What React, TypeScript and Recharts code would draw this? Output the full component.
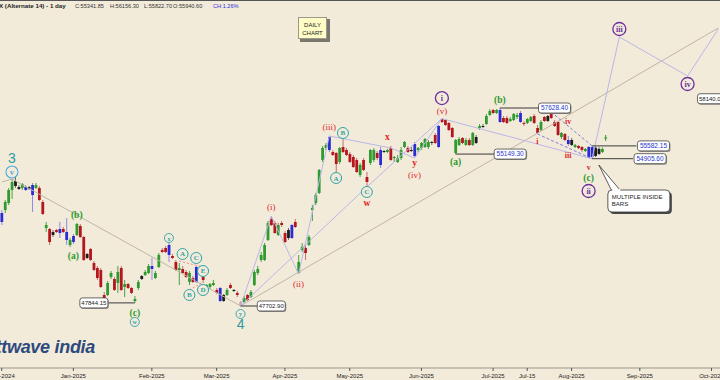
import {
  Bar,
  ComposedChart,
  ReferenceDot,
  ReferenceLine,
  XAxis,
  YAxis,
} from "recharts";

type Tone = "g" | "r" | "b" | "k" | "p";
// open, high, low, close, bar colour used by the charting package
type Ohlc = [number, number, number, number, Tone];

const dec2024: Ohlc[] = [
  [51686, 52281, 51538, 52132, "b"], [52281, 52783, 52132, 52683, "g"],
  [52632, 53392, 52532, 53290, "g"], [53290, 53852, 52834, 53698, "g"],
  [53749, 53955, 53392, 53493, "k"], [53442, 53544, 53290, 53341, "k"],
  [53392, 53646, 53290, 53595, "g"], [53290, 53544, 53239, 53442, "b"],
  [53442, 53493, 53290, 53341, "k"], [53035, 53646, 52182, 53544, "b"],
  [53392, 53646, 53341, 53544, "g"], [53392, 53493, 52733, 52783, "r"],
  [52683, 52783, 52033, 52083, "r"], [51391, 51686, 51195, 51538, "g"],
  [51342, 51391, 50564, 50709, "r"], [51195, 51293, 50951, 51048, "k"],
  [51293, 51342, 51146, 51195, "r"], [51146, 51686, 50902, 51342, "b"],
  [51342, 51440, 51146, 51195, "r"], [50805, 51884, 50564, 51195, "b"],
  [50564, 50902, 50468, 50805, "g"],
];
const jan2025: Ohlc[] = [
  [50709, 51097, 50612, 50999, "b"], [51048, 51636, 50999, 51587, "g"],
  [51489, 51587, 50902, 50951, "r"], [50951, 50999, 49797, 49845, "r"],
  [50131, 50179, 49892, 49940, "k"], [50371, 50420, 49797, 49845, "r"],
  [49702, 49797, 49324, 49371, "r"], [49465, 49560, 48902, 48995, "r"],
  [49371, 49465, 48530, 48577, "r"], [48207, 48346, 47885, 48023, "r"],
  [48207, 48855, 48161, 48762, "g"], [49042, 49324, 48949, 49230, "g"],
  [48949, 49042, 48392, 48438, "r"], [48762, 49560, 48300, 49277, "g"],
  [49465, 49560, 48392, 48438, "r"], [48577, 48902, 48115, 48716, "g"],
  [48716, 48762, 48484, 48530, "r"], [48530, 48577, 48254, 48300, "r"],
  [47930, 48161, 47844.15, 48023, "g"], [48530, 48902, 48438, 48809, "g"],
  [49089, 49136, 48902, 48949, "k"], [49136, 49371, 49089, 49277, "g"],
  [49230, 49655, 49183, 49560, "g"],
];
const feb2025: Ohlc[] = [
  [49418, 49940, 48902, 49560, "b"], [48995, 49324, 48949, 49230, "g"],
  [49513, 50179, 49465, 50083, "g"], [50323, 50420, 50179, 50227, "r"],
  [50420, 50516, 50179, 50227, "r"], [50083, 50660, 49750, 50564, "b"],
  [50035, 50131, 49892, 49940, "r"], [49750, 49845, 49324, 49371, "r"],
  [49371, 49702, 48669, 49465, "g"], [49418, 49560, 49183, 49230, "r"],
  [49277, 49371, 48995, 49042, "r"], [48809, 49324, 48669, 49230, "g"],
  [48995, 49089, 48762, 48809, "r"], [48809, 49560, 48762, 49513, "b"],
  [49277, 49371, 49136, 49183, "r"], [49042, 49136, 48762, 48902, "r"],
  [48577, 48716, 48530, 48669, "g"], [48577, 48762, 48484, 48716, "g"],
  [48669, 48902, 48623, 48762, "g"],
];
const mar2025: Ohlc[] = [
  [48438, 48530, 48254, 48300, "r"], [48530, 48577, 47885, 47931, "b"],
  [48207, 48254, 47885, 47931, "k"], [48207, 48530, 48161, 48438, "g"],
  [48669, 48762, 48484, 48530, "r"], [48438, 48484, 48346, 48392, "k"],
  [48300, 48392, 48115, 48207, "r"], [47885, 47931, 47702.9, 47748, "p"],
  [47885, 48161, 47839, 48069, "g"], [48207, 48254, 47931, 47977, "r"],
  [48115, 48438, 48069, 48346, "g"], [48669, 49371, 48623, 49277, "g"],
  [49230, 49560, 49136, 49418, "g"], [49845, 50227, 49750, 50083, "g"],
  [49845, 50660, 49797, 50564, "g"], [50805, 51735, 50757, 51636, "g"],
  [51834, 51983, 51489, 51538, "r"], [51636, 51735, 51097, 51146, "r"],
  [51048, 51636, 50999, 51538, "g"], [51636, 51735, 51440, 51538, "r"],
];
const apr2025: Ohlc[] = [
  [51146, 51244, 50660, 50709, "r"], [50902, 51391, 50805, 51293, "k"],
  [50902, 51587, 50854, 51538, "b"], [51686, 51834, 51391, 51440, "r"],
  [49230, 50083, 49183, 49750, "g"], [50323, 50660, 50227, 50468, "g"],
  [50420, 50564, 49845, 50179, "r"], [50564, 51048, 50516, 50951, "g"],
  [52281, 52532, 51735, 52381, "g"], [52632, 53137, 52532, 53035, "g"],
  [53137, 54368, 53086, 54316, "g"], [54838, 55576, 54733, 55470, "g"],
  [55470, 55735, 55364, 55629, "g"], [55364, 56109, 55258, 56055, "b"],
  [55258, 55364, 55048, 55100, "r"], [55205, 55258, 54161, 54628, "r"],
  [54733, 55523, 54628, 55470, "g"], [55523, 55948, 55205, 55258, "r"],
  [55364, 55470, 55048, 55100, "r"],
];
const may2025: Ohlc[] = [
  [55153, 55258, 54681, 54733, "r"], [54995, 55100, 54420, 54472, "r"],
  [54838, 54943, 54161, 54213, "r"], [54058, 54681, 53955, 54576, "g"],
  [54838, 54943, 54264, 54316, "r"], [53955, 54213, 53442, 53698, "r"],
  [54681, 55417, 54576, 55364, "g"], [54838, 55470, 54733, 55364, "g"],
  [55205, 55311, 54838, 54943, "r"], [55364, 55523, 54420, 54576, "b"],
  [55311, 55364, 55205, 55258, "k"], [55258, 55417, 55205, 55364, "g"],
  [55470, 55576, 54786, 54838, "r"], [54943, 55048, 54733, 54995, "g"],
  [54733, 55100, 54681, 54943, "g"], [54943, 55523, 54838, 55364, "g"],
  [55523, 55842, 55470, 55789, "g"], [55470, 55576, 55205, 55258, "r"],
  [55364, 55523, 55258, 55311, "k"], [55048, 55789, 54995, 55682, "b"],
  [55364, 55523, 55258, 55470, "g"],
];
const jun2025: Ohlc[] = [
  [55470, 55789, 55364, 55735, "g"], [55523, 56002, 55470, 55948, "g"],
  [55523, 55895, 55417, 55789, "g"], [55789, 55842, 55629, 55735, "k"],
  [56162, 56270, 55682, 55735, "r"], [55523, 56701, 55470, 56647, "b"],
  [57026, 57050, 56810, 56864, "r"], [56972, 57026, 56647, 56701, "r"],
  [56810, 56864, 56377, 56431, "r"], [56539, 56593, 56002, 56055, "r"],
  [55205, 55948, 55149.3, 55895, "g"], [55629, 56055, 55576, 55948, "g"],
  [56002, 56055, 55682, 55735, "r"], [55629, 56002, 55576, 55895, "g"],
  [55895, 56002, 55576, 55629, "r"], [55629, 56324, 55576, 56270, "g"],
  [56055, 56162, 55682, 55735, "k"], [56539, 56755, 56431, 56647, "g"],
  [56647, 56755, 56539, 56593, "k"], [56755, 57300, 56701, 57190, "g"],
  [57245, 57574, 57190, 57464, "g"],
];
const jul2025: Ohlc[] = [
  [57519, 57580, 57300, 57355, "r"], [57355, 57574, 57300, 57519, "g"],
  [57519, 57628.4, 56810, 56864, "b"], [57081, 57190, 56810, 56864, "r"],
  [57081, 57190, 56755, 56810, "r"], [56918, 57136, 56864, 57026, "g"],
  [56972, 57355, 56918, 57300, "g"], [57136, 57355, 57026, 57245, "g"],
  [57355, 57464, 56810, 56864, "b"], [56810, 56918, 56647, 56755, "r"],
  [56810, 57081, 56755, 57026, "g"], [56918, 57190, 56864, 57136, "g"],
  [57190, 57300, 56755, 56810, "r"], [56539, 56701, 56216, 56270, "r"],
  [56431, 56972, 56377, 56864, "g"], [57136, 57190, 56864, 56918, "r"],
  [56918, 57245, 56864, 57190, "k"], [57300, 57410, 57026, 57081, "r"],
  [56864, 56972, 56593, 56647, "r"], [56864, 56918, 56109, 56162, "r"],
  [56055, 56324, 55948, 56270, "g"], [56216, 56270, 55842, 55895, "r"],
  [55895, 56109, 55576, 55682, "b"],
];
const aug2025: Ohlc[] = [
  [55895, 56002, 55576, 55629, "k"], [55523, 55682, 55470, 55629, "g"],
  [55576, 55629, 55417, 55470, "r"], [55523, 55576, 55258, 55364, "r"],
  [55311, 55470, 55258, 55417, "g"], [54995, 55560, 54950, 55530, "b"],
  [55520, 55582.15, 54905.6, 54995, "b"], [55480, 55560, 54995, 55048, "k"],
  [55420, 55520, 55100, 55153, "k"], [55258, 55500, 55205, 55417, "g"],
];

// trading-day slots, Dec-2024 through the empty projection area
const SLOT_COUNT = 211;
const monthTickSlots = [0, 21, 44, 63, 83, 102, 123, 144, 154, 167, 187, 208];
const monthTickLabels = [
  "Dec-2024", "Jan-2025", "Feb-2025", "Mar-2025", "Apr-2025", "May-2025",
  "Jun-2025", "Jul-2025", "Jul-15", "Aug-2025", "Sep-2025", "Oct-2025",
];

// [slot, price, slot, price]
type Seg = [number, number, number, number];
const trendLines: Seg[] = [
  [0, 53698, 3, 53852],
  [3, 53852, 70, 47702.9],
  [70, 47702.9, 210, 62203],
];
const waveLines: Seg[] = [
  [70, 47702.9, 79, 51983],
  [79, 51983, 87, 49183],
  [87, 49183, 96, 56109],
  [70, 47702.9, 107, 53442],
  [107, 53442, 129, 57050],
  [96, 56109, 114, 55470],
  [114, 55470, 121, 54943],
  [121, 54943, 129, 57050],
  [129, 57050, 173, 54905.6],
  [173, 54905.6, 181, 61671],
  [181, 61671, 201, 59416],
  [201, 59416, 210, 62144],
];
const wedgeLines: Seg[] = [
  [157, 56216, 173, 54905.6],
  [161, 57410, 173, 55582.15],
];
const triangleLines: Seg[] = [
  [52, 49797, 59, 49513],
  [55, 48438, 59, 48809],
];

type Kind =
  | "big" | "ringBlue" | "ringTeal" | "ringTealSm" | "ringPurple"
  | "green" | "redParen" | "red" | "redSm" | "plus";
const waveLabels: [number, number, string, Kind][] = [
  [3, 54943, "3", "big"],
  [3, 54213, "v", "ringBlue"],
  [21, 50035, "(a)", "green"],
  [22, 52033, "(b)", "green"],
  [39, 47385, "(c)", "green"],
  [39, 46980, "w", "ringTealSm"],
  [49, 50902, "x", "ringTealSm"],
  [53, 50131, "A", "ringTeal"],
  [55, 48207, "B", "ringTeal"],
  [57, 49940, "C", "ringTeal"],
  [59, 48438, "D", "ringTeal"],
  [59, 49324, "E", "ringTeal"],
  [70, 47340, "y", "ringTealSm"],
  [70, 46890, "4", "big"],
  [79, 52432, "(i)", "redParen"],
  [87, 48716, "(ii)", "redParen"],
  [96, 56593, "(iii)", "redParen"],
  [98, 53903, "A", "ringTeal"],
  [100, 56270, "B", "ringTeal"],
  [107, 53188, "C", "ringTeal"],
  [107, 52632, "w", "red"],
  [113, 56055, "x", "red"],
  [121, 54681, "y", "red"],
  [121, 54058, "(iv)", "redParen"],
  [129, 57464, "(v)", "redParen"],
  [129, 58180, "i", "ringPurple"],
  [133, 54733, "(a)", "green"],
  [146, 58070, "(b)", "green"],
  [157, 55789, "i", "redSm"],
  [166, 56864, "iv", "redSm"],
  [166, 55100, "iii", "redSm"],
  [172, 54472, "v", "redSm"],
  [172, 53903, "(c)", "green"],
  [172, 53239, "ii", "ringPurple"],
  [181, 62144, "iii", "ringPurple"],
  [201, 58964, "iv", "ringPurple"],
  [177, 56002, "", "plus"],
];

// value, connector from slot, connector to slot, label slot, blue text
const priceTags: [number, number | null, number | null, number, boolean][] = [
  [47844.15, 39, 31, 27, false],
  [47702.9, 70, 75, 79, false],
  [55149.3, 133, 145, 149, true],
  [57628.4, 146, 158, 162, true],
  [55582.15, 173, 186, 191, true],
  [54905.6, 173, 185, 190, true],
  [58140.0, null, null, 208, false],
];

const BG = "#f3ebda";
const SANS = "'Liberation Sans', Arial, sans-serif";
const SERIF = "'Liberation Serif', 'Times New Roman', serif";

const TONES: Record<Tone, { body: string; wick: string }> = {
  g: { body: "#2f9a2f", wick: "#46a246" },
  r: { body: "#b3161c", wick: "#c86d6d" },
  b: { body: "#2b2bd4", wick: "#8a8ae4" },
  k: { body: "#1d1d1d", wick: "#6d6d6d" },
  p: { body: "#d8a2a2", wick: "#c69c9c" },
};

const candles = [
  ...dec2024, ...jan2025, ...feb2025, ...mar2025, ...apr2025,
  ...may2025, ...jun2025, ...jul2025, ...aug2025,
];
const rows = Array.from({ length: SLOT_COUNT }, (_, slot) => {
  const c = candles[slot];
  if (!c) return { slot };
  return { slot, open: c[0], high: c[1], low: c[2], close: c[3], tone: c[4], range: [c[2], c[1]] };
});

function CandleShape(props: any) {
  const { x, y, width, height, payload } = props;
  if (!payload || payload.open == null || !isFinite(y) || !isFinite(height)) return null;
  const top = Math.min(y, y + height);
  const bot = Math.max(y, y + height);
  const lh = Math.log(payload.high);
  const ll = Math.log(payload.low);
  const py = (v: number) => (lh === ll ? top : top + ((lh - Math.log(v)) / (lh - ll)) * (bot - top));
  const b1 = py(Math.max(payload.open, payload.close));
  const b2 = py(Math.min(payload.open, payload.close));
  const mid = x + width / 2;
  const t = TONES[payload.tone as Tone];
  return (
    <g>
      <line x1={mid} x2={mid} y1={top} y2={bot} stroke={t.wick} strokeWidth={1} />
      <rect x={mid - 1.4} y={b1} width={2.8} height={Math.max(b2 - b1, 0.9)} fill={t.body} />
    </g>
  );
}

function MonthTick(props: any) {
  const { x, y, payload } = props;
  const k = monthTickSlots.indexOf(payload.value);
  if (k < 0) return <g />;
  return (
    <g>
      <line x1={x} x2={x} y1={y - 3} y2={y} stroke="#555" strokeWidth={1} />
      <text x={x} y={y + 7} textAnchor="middle" fontSize={6} fontFamily={SANS} fill="#222">
        {monthTickLabels[k]}
      </text>
    </g>
  );
}

const RINGS: Partial<Record<Kind, { r: number; color: string; fs: number; sw: number }>> = {
  ringBlue: { r: 6, color: "#52aadf", fs: 8.5, sw: 1.1 },
  ringTeal: { r: 5.5, color: "#2ea3a8", fs: 7, sw: 1 },
  ringTealSm: { r: 4.5, color: "#2ea3a8", fs: 6, sw: 0.9 },
  ringPurple: { r: 6.5, color: "#6d2e9e", fs: 8, sw: 1.3 },
};
const TEXTS: Partial<Record<Kind, { fs: number; color: string; weight: string }>> = {
  green: { fs: 9.5, color: "#2c9a2c", weight: "bold" },
  redParen: { fs: 9, color: "#e0282c", weight: "normal" },
  red: { fs: 9.5, color: "#e0282c", weight: "bold" },
  redSm: { fs: 8, color: "#e0282c", weight: "bold" },
};

function WaveMark({ cx, cy, text, kind }: { cx: number; cy: number; text: string; kind: Kind }) {
  if (kind === "big") {
    return (
      <text x={cx} y={cy} textAnchor="middle" dominantBaseline="central" fontSize={14} fontFamily={SANS} fill="#2a9ba5">
        {text}
      </text>
    );
  }
  if (kind === "plus") {
    return (
      <g stroke="#2f9a2f" strokeWidth={1}>
        <line x1={cx} x2={cx} y1={cy - 3} y2={cy + 3} />
        <line x1={cx - 1.5} x2={cx + 1.5} y1={cy} y2={cy} />
      </g>
    );
  }
  const ring = RINGS[kind];
  if (ring) {
    return (
      <g>
        <circle cx={cx} cy={cy} r={ring.r} fill={BG} stroke={ring.color} strokeWidth={ring.sw} />
        <text x={cx} y={cy + 0.5} textAnchor="middle" dominantBaseline="central" fontSize={ring.fs}
          fontFamily={SERIF} fontWeight="bold" fill={ring.color}>
          {text}
        </text>
      </g>
    );
  }
  const s = TEXTS[kind]!;
  return (
    <text x={cx} y={cy} textAnchor="middle" dominantBaseline="central" fontSize={s.fs}
      fontFamily={SERIF} fontWeight={s.weight} fill={s.color}>
      {text}
    </text>
  );
}

function PriceBox({ cx, cy, text, blue }: { cx: number; cy: number; text: string; blue: boolean }) {
  const w = blue ? 32 : 28;
  return (
    <g>
      <rect x={cx - w / 2 + 1} y={cy - 4} width={w} height={10} rx={2.5} fill="#9a958c" />
      <rect x={cx - w / 2} y={cy - 5} width={w} height={10} rx={2.5} fill="#fff" stroke="#444" strokeWidth={0.8} />
      <text x={cx} y={cy + 2.2} textAnchor="middle" fontSize={blue ? 6.5 : 6} fontFamily={SANS}
        fill={blue ? "#2436d0" : "#222"}>
        {text}
      </text>
    </g>
  );
}

function Callout({ cx, cy }: { cx: number; cy: number }) {
  return (
    <g>
      <rect x={cx + 11} y={cy + 27} width={62} height={22} rx={4} fill="#4a4a4a" />
      <polygon points={`${cx},${cy} ${cx + 13},${cy + 26} ${cx + 22},${cy + 26}`} fill="#fff" stroke="#333" strokeWidth={0.8} />
      <rect x={cx + 9} y={cy + 25} width={62} height={22} rx={4} fill="#fff" stroke="#333" strokeWidth={0.8} />
      <rect x={cx + 13.5} y={cy + 24} width={8} height={2} fill="#fff" />
      <text x={cx + 13} y={cy + 34} fontSize={6} fontFamily={SANS} fill="#222">MULTIPLE INSIDE</text>
      <text x={cx + 13} y={cy + 41} fontSize={6} fontFamily={SANS} fill="#222">BARS</text>
    </g>
  );
}

const seg = (s: Seg) => [{ x: s[0], y: s[1] }, { x: s[2], y: s[3] }];

export default function App() {
  return (
    <div style={{ position: "absolute", left: 0, top: 0, width: 720, height: 380, background: BG, overflow: "hidden" }}>
      <ComposedChart width={720} height={380} data={rows} margin={{ top: 0, right: 0, bottom: 0, left: 0 }}>
        <XAxis dataKey="slot" type="category" height={12} interval={0} tickLine={false} tickSize={3} tickMargin={0}
          axisLine={{ stroke: "#9c968c" }} tick={(p: any) => <MonthTick {...p} />} />
        <YAxis hide type="number" scale="log" domain={[44961, 63888]} allowDataOverflow />
        {trendLines.map((s, i) => (
          <ReferenceLine key={`t${i}`} segment={seg(s)} stroke="#bfb6a6" strokeWidth={1} />
        ))}
        {waveLines.map((s, i) => (
          <ReferenceLine key={`w${i}`} segment={seg(s)} stroke="#b9b7e6" strokeWidth={1} />
        ))}
        {wedgeLines.map((s, i) => (
          <ReferenceLine key={`d${i}`} segment={seg(s)} stroke="#7f7fe0" strokeWidth={1} strokeDasharray="3 2" />
        ))}
        {triangleLines.map((s, i) => (
          <ReferenceLine key={`r${i}`} segment={seg(s)} stroke="#f08a8a" strokeWidth={1} strokeDasharray="2 2" />
        ))}
        {priceTags.filter((t) => t[1] != null).map((t, i) => (
          <ReferenceLine key={`c${i}`} segment={[{ x: t[1]!, y: t[0] }, { x: t[2]!, y: t[0] }]} stroke="#3a3a3a" strokeWidth={1} />
        ))}
        <Bar dataKey="range" shape={(p: any) => <CandleShape {...p} />} isAnimationActive={false} />
        {waveLabels.map(([slot, price, text, kind], i) => (
          <ReferenceDot key={`l${i}`} x={slot} y={price} r={1}
            shape={(p: any) => <WaveMark cx={p.cx} cy={p.cy} text={text} kind={kind} />} />
        ))}
        {priceTags.map((t, i) => (
          <ReferenceDot key={`p${i}`} x={t[3]} y={t[0]} r={1}
            shape={(p: any) => <PriceBox cx={p.cx} cy={p.cy} text={t[0].toFixed(2)} blue={t[4]} />} />
        ))}
        <ReferenceDot x={175} y={54576} r={1} shape={(p: any) => <Callout cx={p.cx} cy={p.cy} />} />
      </ComposedChart>

      <div style={{ position: "absolute", left: 0, top: 0, width: 720, height: 1, background: "#555" }} />
      <div style={{ position: "absolute", top: 2, left: -1, fontFamily: SANS, fontSize: 6.2, fontWeight: "bold", color: "#222", whiteSpace: "nowrap", lineHeight: "8px" }}>
        X (Alternate 14) - 1 day
      </div>
      {[
        ["C:55341.85", 75],
        ["H:56156.30", 110],
        ["L:55822.70", 144],
        ["O:55940.60", 173],
      ].map(([txt, left]) => (
        <div key={txt as string} style={{ position: "absolute", top: 2, left: left as number, fontFamily: SANS, fontSize: 5.6, color: "#333", whiteSpace: "nowrap", lineHeight: "8px" }}>
          {txt}
        </div>
      ))}
      <div style={{ position: "absolute", top: 2, left: 213, fontFamily: SANS, fontSize: 5.6, color: "#3030e0", whiteSpace: "nowrap", lineHeight: "8px" }}>
        CH:1.26%
      </div>
      <div style={{ position: "absolute", left: 300, top: 19, width: 30, height: 23, background: "#7a776f" }} />
      <div style={{ position: "absolute", left: 298, top: 17, width: 29, height: 22, background: "#fffcc6", border: "1px solid #9a9a8a", boxSizing: "border-box", fontFamily: SANS, fontSize: 6, color: "#222", textAlign: "center", lineHeight: "8px", paddingTop: 3 }}>
        DAILY<br />CHART
      </div>
      <div style={{ position: "absolute", right: 625, top: 337, fontFamily: SANS, fontSize: 18, fontWeight: "bold", fontStyle: "italic", color: "#2c4a7e", whiteSpace: "nowrap", lineHeight: "20px", letterSpacing: -0.3 }}>
        elliottwave india
      </div>
    </div>
  );
}
